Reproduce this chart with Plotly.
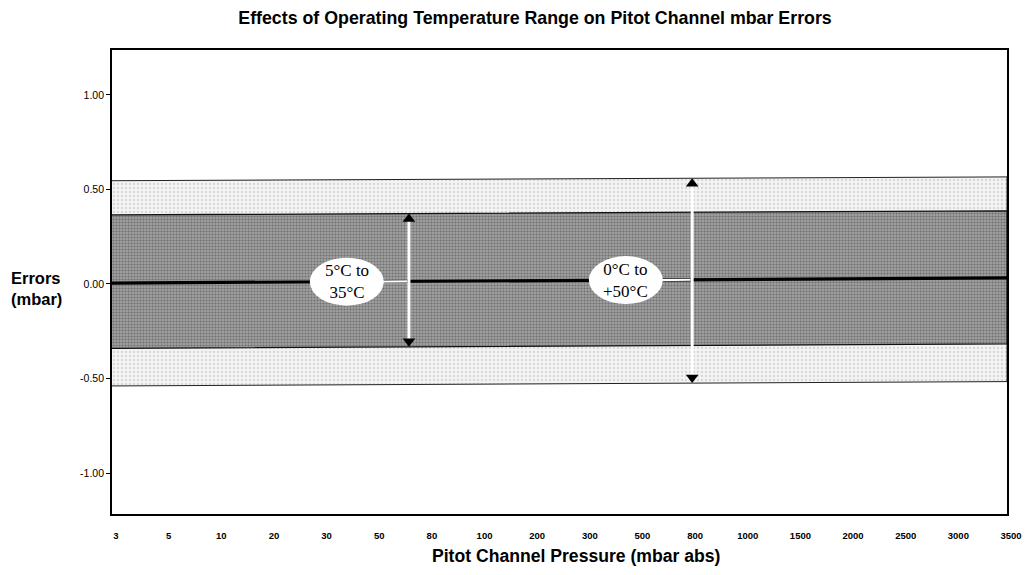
import plotly.graph_objects as go

# Category axis: pitot channel pressure (mbar abs)
pressure_labels = ["3", "5", "10", "20", "30", "50", "80", "100", "200", "300",
                   "500", "800", "1000", "1500", "2000", "2500", "3000", "3500"]

# Error band edges at the first and last pressure category (mbar)
end_positions = [0, 17]
zero_error = [0.005, 0.032]
inner_upper = [0.365, 0.387]   # 5°C to 35°C
inner_lower = [-0.340, -0.317]
outer_upper = [0.546, 0.566]   # 0°C to +50°C
outer_lower = [-0.539, -0.516]

# Temperature range callouts
range_labels = ["5°C to<br>35°C", "0°C to<br>+50°C"]
arrow_x = [5.64, 11.02]
label_x = [4.46, 9.76]

y_tick_values = [1.0, 0.5, 0.0, -0.5, -1.0]
y_tick_labels = ["1.00", "0.50", "0.00", "-0.50", "-1.00"]

W, H = 1028, 575
ML, MR, MT, MB = 112, 21, 50, 61
X_RANGE = [0, 17]
Y_RANGE = [-1.216, 1.237]
PLOT_W = W - ML - MR
PLOT_H = H - MT - MB
PX_PER_Y = PLOT_H / (Y_RANGE[1] - Y_RANGE[0])
PX_PER_X = PLOT_W / (X_RANGE[1] - X_RANGE[0])

SANS = "Liberation Sans, Arial, sans-serif"
SERIF = "Liberation Serif, Times New Roman, serif"


def at(edge, x):
    """Value of a two-point band edge at category position x."""
    x0, x1 = end_positions
    return edge[0] + (edge[1] - edge[0]) * (x - x0) / (x1 - x0)


fig = go.Figure()

# Outer band (0°C to +50°C): light halftone
fig.add_trace(go.Scatter(
    x=end_positions + end_positions[::-1],
    y=outer_upper + outer_lower[::-1],
    fill="toself", fillcolor="#eeeeee", mode="lines",
    fillpattern=dict(shape=".", fgcolor="#b8b8b8", bgcolor="#f3f3f3",
                     size=4, solidity=0.25),
    line=dict(color="#222222", width=1), hoverinfo="skip", showlegend=False))

# Inner band (5°C to 35°C): dark halftone
fig.add_trace(go.Scatter(
    x=end_positions + end_positions[::-1],
    y=inner_upper + inner_lower[::-1],
    fill="toself", fillcolor="#959595", mode="lines",
    fillpattern=dict(shape=".", fgcolor="#404040", bgcolor="#a0a0a0",
                     size=3, solidity=0.4),
    line=dict(color="#111111", width=1.3), hoverinfo="skip", showlegend=False))

# Zero error line
fig.add_trace(go.Scatter(
    x=end_positions, y=zero_error, mode="lines",
    line=dict(color="#000000", width=3.2), hoverinfo="skip", showlegend=False))

bands = [(inner_upper, inner_lower), (outer_upper, outer_lower)]
tri_size = 11
tip_offset = (tri_size / 2) / PX_PER_Y

for ax_pos, lx, text, (up, lo) in zip(arrow_x, label_x, range_labels, bands):
    top = at(up, ax_pos)
    bot = at(lo, ax_pos)
    mid = at(zero_error, ax_pos)
    # white arrow shaft
    fig.add_trace(go.Scatter(
        x=[ax_pos, ax_pos], y=[bot + tip_offset, top - tip_offset], mode="lines",
        line=dict(color="#ffffff", width=3), hoverinfo="skip", showlegend=False))
    # black arrowheads
    fig.add_trace(go.Scatter(
        x=[ax_pos, ax_pos], y=[top - tip_offset, bot + tip_offset], mode="markers",
        marker=dict(symbol=["triangle-up", "triangle-down"], size=tri_size,
                    color="#000000", line=dict(width=0)),
        hoverinfo="skip", showlegend=False))
    # leader from label to arrow
    fig.add_shape(type="line", x0=lx + 30 / PX_PER_X, x1=ax_pos - 1.5 / PX_PER_X,
                  y0=at(zero_error, lx), y1=mid,
                  line=dict(color="#ffffff", width=2.2), layer="above")
    # white ellipse behind the label
    fig.add_shape(type="circle", xref="x", yref="y",
                  xsizemode="pixel", ysizemode="pixel",
                  xanchor=lx, yanchor=at(zero_error, lx),
                  x0=-37, x1=37, y0=-24, y1=24,
                  fillcolor="#ffffff", line=dict(color="#ffffff", width=0),
                  layer="above")
    fig.add_annotation(x=lx, y=at(zero_error, lx), text=text, showarrow=False,
                       font=dict(family=SERIF, size=17, color="#000000"),
                       align="center", xanchor="center", yanchor="middle")

fig.update_layout(
    width=W, height=H,
    margin=dict(l=ML, r=MR, t=MT, b=MB, autoexpand=False),
    paper_bgcolor="#ffffff", plot_bgcolor="#ffffff",
    showlegend=False,
    title=dict(text="<b>Effects of Operating Temperature Range on Pitot Channel mbar Errors</b>",
               x=535 / W, y=1 - 18 / H, xref="container", yref="container",
               xanchor="center", yanchor="middle",
               font=dict(family=SANS, size=17.8, color="#000000")),
    font=dict(family=SANS, color="#000000"),
)

fig.update_xaxes(
    range=X_RANGE, tickmode="array", automargin=False,
    tickvals=list(range(len(pressure_labels))), ticktext=pressure_labels,
    ticks="", ticklabelstandoff=12, ticklabelshift=4,
    tickfont=dict(family=SANS, size=9.5, color="#000000", weight="bold"),
    showgrid=False, zeroline=False,
    showline=True, linecolor="#000000", linewidth=1.8, mirror=True)

fig.update_yaxes(
    range=Y_RANGE, tickmode="array", automargin=False,
    tickvals=y_tick_values, ticktext=y_tick_labels,
    ticks="outside", ticklen=4, tickcolor="#000000", tickwidth=1,
    tickfont=dict(family=SANS, size=10.5, color="#000000"),
    showgrid=False, zeroline=False,
    showline=True, linecolor="#000000", linewidth=1.8, mirror=True)

# Axis titles
fig.add_annotation(text="<b>Errors<br>(mbar)</b>", xref="paper", yref="paper",
                   x=(9 - ML) / PLOT_W, y=1 - (288 - MT) / PLOT_H,
                   xanchor="left", yanchor="middle", align="left", showarrow=False,
                   font=dict(family=SANS, size=16.5, color="#000000"))
fig.add_annotation(text="<b>Pitot Channel Pressure (mbar abs)</b>", xref="paper", yref="paper",
                   x=(576 - ML) / PLOT_W, y=-(556 - (H - MB)) / PLOT_H,
                   xanchor="center", yanchor="middle", showarrow=False,
                   font=dict(family=SANS, size=17.6, color="#000000"))

fig.write_html("out.html")
